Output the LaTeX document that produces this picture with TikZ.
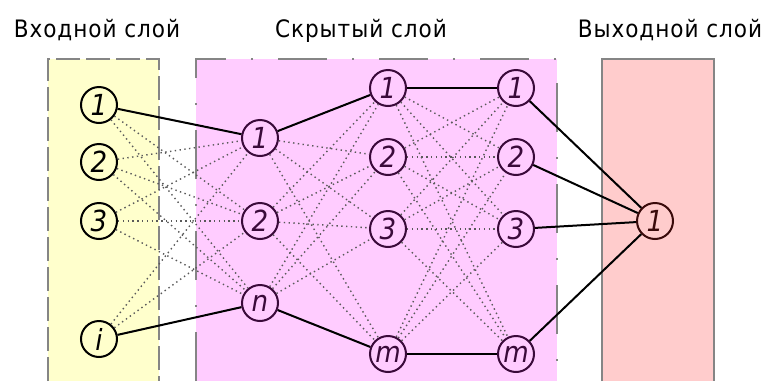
\documentclass[tikz,border=0pt]{standalone}
\usepackage{fontspec}
\setmainfont{DejaVu Sans Condensed}
\newfontfamily\titlefont[LetterSpace=4]{DejaVu Sans Condensed}
\definecolor{ybg}{HTML}{FFFFCC}
\definecolor{pbg}{HTML}{FFCCFF}
\definecolor{obg}{HTML}{FFCCCC}
\definecolor{bord}{HTML}{858585}
\definecolor{hcol}{HTML}{3A0A3A}
\definecolor{ocol}{HTML}{3A0A0A}
\begin{document}
\begin{tikzpicture}[x=1pt,y=-1pt,
  neuron/.style={circle,draw,line width=2pt,minimum size=36pt,inner sep=0pt,font=\fontsize{29}{30}\selectfont\itshape},
  solidc/.style={line width=2pt,draw=black},
  dotc/.style={line width=1.4pt,dash pattern=on 1.4pt off 3.4pt,draw=black!65},
  title/.style={font=\titlefont\fontsize{24}{26}\selectfont,anchor=base},
  border/.style={draw=bord,line width=1.5pt},
]
\useasboundingbox (0,0) rectangle (766,381);
% layer boxes
\fill[ybg] (48,59) rectangle (159,381);
\draw[border,dash pattern=on 24pt off 6pt] (48,381) -- (48,59) -- (159,59) -- (159,381);
\fill[pbg] (196,59) rectangle (557,381);
\draw[border,dash pattern=on 49pt off 25pt on 2pt off 25pt] (196,381) -- (196,59) -- (557,59) -- (557,381);
\fill[obg] (602,59) rectangle (714,381);
\draw[border] (602,381) -- (602,59) -- (714,59) -- (714,381);
% titles
\node[title] (t1) at (97,37) {Входной слой};
\node[title] (t2) at (361,37) {Скрытый слой};
\node[title] (t3) at (670,37) {Выходной слой};
% nodes
\node[neuron] (i1) at (99,105) {1};
\node[neuron] (i2) at (99,162) {2};
\node[neuron] (i3) at (99,221) {3};
\node[neuron] (ii) at (99,339) {i};
\node[neuron,draw=hcol,text=hcol] (a1) at (260,138) {1};
\node[neuron,draw=hcol,text=hcol] (a2) at (260,221) {2};
\node[neuron,draw=hcol,text=hcol] (an) at (260,303) {n};
\node[neuron,draw=hcol,text=hcol] (b1) at (388,88) {1};
\node[neuron,draw=hcol,text=hcol] (b2) at (388,157) {2};
\node[neuron,draw=hcol,text=hcol] (b3) at (388,229) {3};
\node[neuron,draw=hcol,text=hcol] (bm) at (388,354) {m};
\node[neuron,draw=hcol,text=hcol] (c1) at (516,88) {1};
\node[neuron,draw=hcol,text=hcol] (c2) at (516,157) {2};
\node[neuron,draw=hcol,text=hcol] (c3) at (516,229) {3};
\node[neuron,draw=hcol,text=hcol] (cm) at (516,354) {m};
\node[neuron,draw=ocol,text=ocol] (o1) at (655,221) {1};
% dotted connections
\foreach \a in {i1,i2,i3,ii}{\foreach \b in {a1,a2,an}{\draw[dotc] (\a) -- (\b);}}
\foreach \a in {a1,a2,an}{\foreach \b in {b1,b2,b3,bm}{\draw[dotc] (\a) -- (\b);}}
\foreach \a in {b1,b2,b3,bm}{\foreach \b in {c1,c2,c3,cm}{\draw[dotc] (\a) -- (\b);}}
% solid connections
\draw[solidc] (i1) -- (a1);
\draw[solidc] (ii) -- (an);
\draw[solidc] (a1) -- (b1);
\draw[solidc] (an) -- (bm);
\draw[solidc] (b1) -- (c1);
\draw[solidc] (bm) -- (cm);
\foreach \a in {c1,c2,c3,cm}{\draw[solidc] (\a) -- (o1);}
\end{tikzpicture}
\end{document}
